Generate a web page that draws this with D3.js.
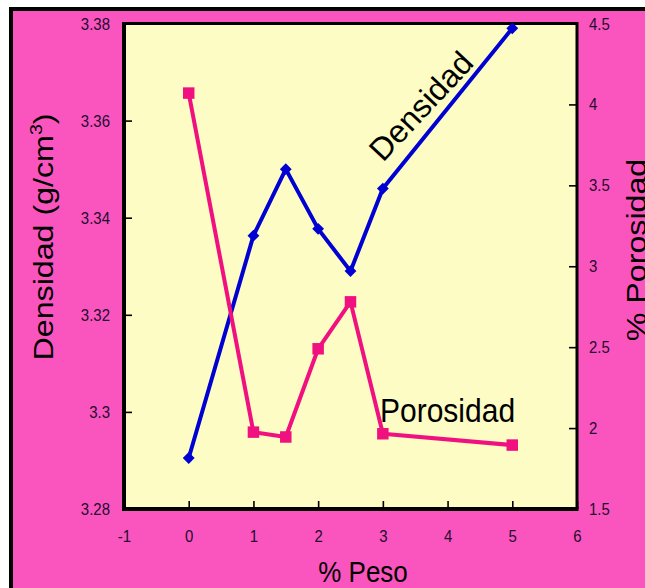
<!DOCTYPE html>
<html>
<head>
<meta charset="utf-8">
<script src="https://cdn.jsdelivr.net/npm/d3@7"></script>
<style>
  html, body { margin: 0; padding: 0; background: #ffffff; }
  svg { display: block; }
  text { font-family: "Liberation Sans", Arial, sans-serif; }
</style>
</head>
<body>
<div id="chart"></div>
<script>
// ---- data ----
const pesoValues = [0, 1, 1.5, 2, 2.5, 3, 5];
const densidadValues = [3.2905, 3.3363, 3.3500, 3.3377, 3.3290, 3.3460, 3.3790];
const porosidadValues = [4.07, 1.975, 1.945, 2.49, 2.78, 1.965, 1.895];
const xTicks = [-1, 0, 1, 2, 3, 4, 5, 6];
const densTicks = [3.28, 3.30, 3.32, 3.34, 3.36, 3.38];
const poroTicks = [1.5, 2, 2.5, 3, 3.5, 4, 4.5];

const W = 645, H = 588;
const plot = { left: 124, right: 577, top: 23.5, bottom: 509 };
const PINK_BG = "#fa55be", PLOT_BG = "#fcfcc4";
const BLUE = "#0000d2", PINK = "#f0107f";
const VS = 1.15; // vertical stretch of the picture

const svg = d3.select("#chart").append("svg").attr("width", W).attr("height", H);

// outer frame
svg.append("rect").attr("x", 0).attr("y", 0).attr("width", W).attr("height", H).attr("fill", "#fff");
svg.append("rect").attr("x", 9).attr("y", 7).attr("width", W - 9).attr("height", H - 7).attr("fill", "#000");
svg.append("rect").attr("x", 13).attr("y", 11).attr("width", W - 13).attr("height", H - 11).attr("fill", PINK_BG);

// scales
const x = d3.scaleLinear().domain([-1, 6]).range([plot.left, plot.right]);
const yL = d3.scaleLinear().domain([3.28, 3.38]).range([plot.bottom, plot.top]);
const yR = d3.scaleLinear().domain([1.5, 4.5]).range([plot.bottom, plot.top]);

// plot background
svg.append("rect")
  .attr("x", plot.left).attr("y", plot.top)
  .attr("width", plot.right - plot.left).attr("height", plot.bottom - plot.top)
  .attr("fill", PLOT_BG);

// axes
function styleAxis(g) {
  g.select(".domain").remove();
  g.selectAll(".tick line").attr("stroke", "#000").attr("stroke-width", 1.6);
  g.selectAll(".tick text")
    .attr("fill", "#1e0c30")
    .style("font-size", "15px")
    .style("font-family", "'Liberation Sans', Arial, sans-serif")
    .attr("transform", `scale(1,${VS})`);
}

const gL = svg.append("g").attr("transform", `translate(${plot.left},0)`)
  .call(d3.axisLeft(yL).tickValues(densTicks).tickSize(-8).tickPadding(14).tickFormat(d3.format("~g")));
styleAxis(gL);
gL.selectAll(".tick text").attr("x", -14).attr("dy", "0.32em");

const gR = svg.append("g").attr("transform", `translate(${plot.right},0)`)
  .call(d3.axisRight(yR).tickValues(poroTicks).tickSize(-8).tickPadding(12).tickFormat(d3.format("~g")));
styleAxis(gR);
gR.selectAll(".tick text").attr("x", 12).attr("dy", "0.32em");

const gB = svg.append("g").attr("transform", `translate(0,${plot.bottom})`)
  .call(d3.axisBottom(x).tickValues(xTicks).tickSize(-8).tickFormat(d => String(d)));
styleAxis(gB);
gB.selectAll(".tick text").attr("y", 23.5).attr("dy", "0.32em");

// frame lines
svg.append("line").attr("x1", plot.left).attr("x2", plot.right).attr("y1", plot.top).attr("y2", plot.top)
  .attr("stroke", "#000").attr("stroke-width", 3);
svg.append("line").attr("x1", plot.right).attr("x2", plot.right).attr("y1", plot.top - 1.5).attr("y2", plot.bottom)
  .attr("stroke", "#000").attr("stroke-width", 3);
svg.append("line").attr("x1", plot.left).attr("x2", plot.left).attr("y1", plot.top - 1.5).attr("y2", plot.bottom + 2)
  .attr("stroke", "#000").attr("stroke-width", 4);
svg.append("line").attr("x1", plot.left - 2).attr("x2", plot.right + 1.5).attr("y1", plot.bottom).attr("y2", plot.bottom)
  .attr("stroke", "#000").attr("stroke-width", 4);

// series
const densData = pesoValues.map((p, i) => ({ x: p, v: densidadValues[i] }));
const poroData = pesoValues.map((p, i) => ({ x: p, v: porosidadValues[i] }));

svg.append("path").datum(densData)
  .attr("fill", "none").attr("stroke", BLUE).attr("stroke-width", 4).attr("stroke-linejoin", "round")
  .attr("d", d3.line().x(d => x(d.x)).y(d => yL(d.v)));
svg.selectAll(".dia").data(densData).enter().append("path")
  .attr("class", "dia")
  .attr("transform", d => `translate(${x(d.x)},${yL(d.v)}) rotate(45)`)
  .attr("d", d3.symbol(d3.symbolSquare, 70))
  .attr("fill", BLUE);

svg.append("path").datum(poroData)
  .attr("fill", "none").attr("stroke", PINK).attr("stroke-width", 4).attr("stroke-linejoin", "round")
  .attr("d", d3.line().x(d => x(d.x)).y(d => yR(d.v)));
svg.selectAll(".sq").data(poroData).enter().append("path")
  .attr("class", "sq")
  .attr("transform", d => `translate(${x(d.x)},${yR(d.v)})`)
  .attr("d", d3.symbol(d3.symbolSquare, 132))
  .attr("fill", PINK);

// in-plot labels
svg.append("text")
  .attr("transform", "translate(383,163) rotate(-47)")
  .attr("font-size", 32).attr("fill", "#000")
  .text("Densidad");
svg.append("text")
  .attr("transform", `translate(380,422) scale(1,1.08)`)
  .attr("font-size", 30).attr("fill", "#000")
  .text("Porosidad");

// axis titles
const yt = svg.append("text")
  .attr("transform", `translate(53,237) rotate(-90) scale(${VS},1)`)
  .attr("text-anchor", "middle").attr("font-size", 28).attr("fill", "#000");
yt.append("tspan").text("Densidad (g/cm");
yt.append("tspan").attr("font-size", 17).attr("dy", "-11").text("3");
yt.append("tspan").attr("dy", "11").text(")");

svg.append("text")
  .attr("transform", `translate(646,250) rotate(-90) scale(${VS},1)`)
  .attr("text-anchor", "middle").attr("font-size", 28).attr("fill", "#000")
  .text("% Porosidad");

svg.append("text")
  .attr("transform", `translate(363,582) scale(1,${VS})`)
  .attr("text-anchor", "middle").attr("font-size", 26).attr("fill", "#000")
  .text("% Peso");
</script>
</body>
</html>
